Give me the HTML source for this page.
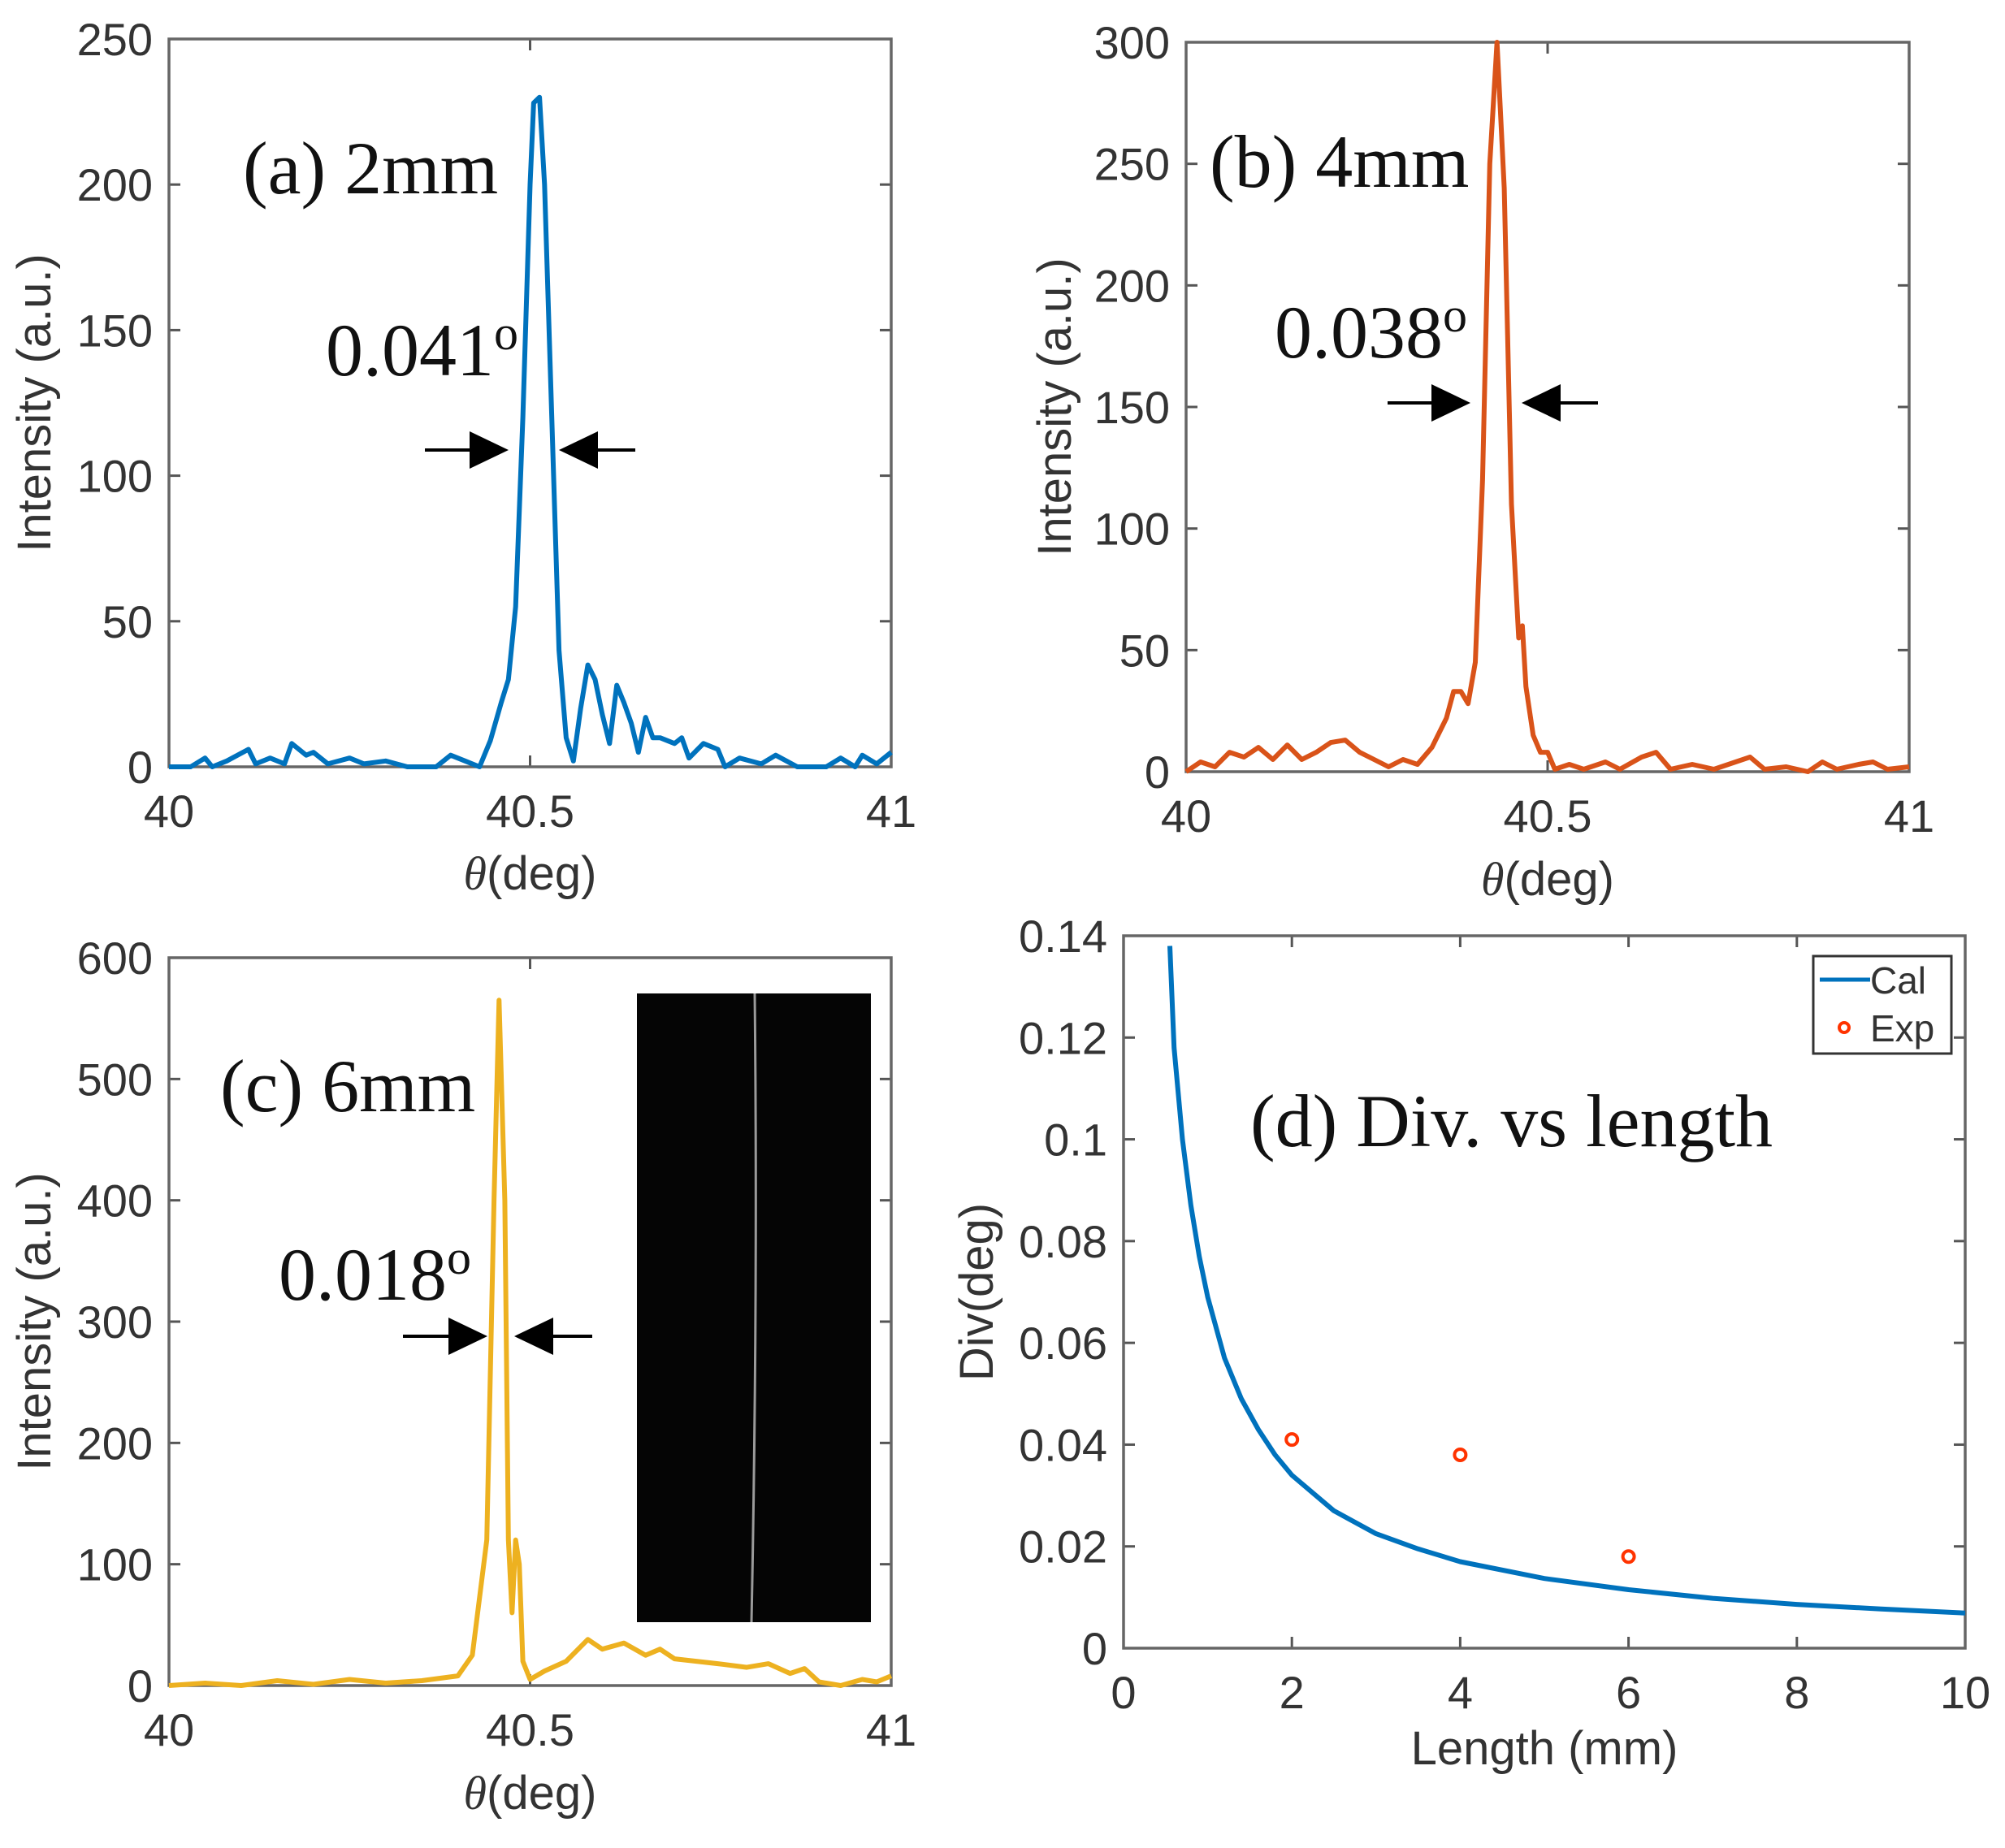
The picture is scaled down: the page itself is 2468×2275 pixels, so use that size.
<!DOCTYPE html>
<html><head><meta charset="utf-8">
<style>
html,body{margin:0;padding:0;background:#fff;}
svg{display:block;}
.tick{font-family:"Liberation Sans",sans-serif;font-size:56px;fill:#333;}
.lab{font-family:"Liberation Sans",sans-serif;font-size:58px;fill:#333;}
.ann{font-family:"Liberation Serif",serif;font-size:92px;fill:#111;}
</style></head><body>
<svg id="fig" width="2468" height="2275" viewBox="0 0 2468 2275" xmlns="http://www.w3.org/2000/svg">
<rect width="2468" height="2275" fill="#fff"/>
</svg>
<script>
// Panel (a) 2mm
const aTheta=[40,40.03,40.05,40.06,40.08,40.11,40.12,40.14,40.16,40.17,40.19,40.2,40.22,40.25,40.27,40.3,40.33,40.37,40.39,40.41,40.43,40.445,40.46,40.47,40.48,40.49,40.5,40.505,40.513,40.52,40.53,40.54,40.55,40.56,40.57,40.58,40.59,40.6,40.61,40.62,40.63,40.64,40.65,40.66,40.67,40.68,40.7,40.71,40.72,40.74,40.76,40.77,40.79,40.82,40.84,40.87,40.91,40.93,40.95,40.96,40.98,41];
const aInt=[0,0,3,0,2,6,1,3,1,8,4,5,1,3,1,2,0,0,4,2,0,9,22,30,55,120,200,228,230,200,120,40,10,2,20,35,30,18,8,28,22,15,5,17,10,10,8,10,3,8,6,0,3,1,4,0,0,3,0,4,1,5];
// Panel (b) 4mm
const bTheta=[40,40.02,40.04,40.06,40.08,40.1,40.12,40.14,40.16,40.18,40.2,40.22,40.24,40.26,40.28,40.3,40.32,40.34,40.36,40.37,40.38,40.39,40.4,40.41,40.42,40.43,40.44,40.45,40.46,40.465,40.47,40.48,40.49,40.5,40.51,40.53,40.55,40.58,40.6,40.63,40.65,40.67,40.7,40.73,40.76,40.78,40.8,40.83,40.86,40.88,40.9,40.93,40.95,40.97,41];
const bInt=[0,4,2,8,6,10,5,11,5,8,12,13,8,5,2,5,3,10,22,33,33,28,45,120,250,300,240,110,55,60,35,15,8,8,1,3,1,4,1,6,8,1,3,1,4,6,1,2,0,4,1,3,4,1,2];
// Panel (c) 6mm
const cTheta=[40,40.05,40.1,40.15,40.2,40.25,40.3,40.35,40.4,40.42,40.44,40.45,40.457,40.465,40.47,40.475,40.48,40.485,40.49,40.5,40.52,40.55,40.58,40.6,40.63,40.66,40.68,40.7,40.73,40.76,40.8,40.83,40.86,40.88,40.9,40.93,40.96,40.98,41];
const cInt=[0,2,0,4,1,5,2,4,8,25,120,400,565,400,120,60,120,100,20,5,12,20,38,30,35,25,30,22,20,18,15,18,10,14,3,0,5,3,8];
// Panel (d)
const calLen=[0.55,0.6,0.7,0.8,0.9,1,1.2,1.4,1.6,1.8,2,2.5,3,3.5,4,5,6,7,8,9,10];
const calDiv=[0.138,0.118,0.100,0.087,0.077,0.069,0.057,0.049,0.043,0.038,0.034,0.027,0.0225,0.0195,0.017,0.0137,0.0115,0.0098,0.0086,0.0077,0.0069];
const expLen=[2,4,6];
const expDiv=[0.041,0.038,0.018];
const xTicksTheta=[40,40.5,41];
const xTickLabelsTheta=["40","40.5","41"];
const yTicksA=[0,50,100,150,200,250];
const yTicksB=[0,50,100,150,200,250,300];
const yTicksC=[0,100,200,300,400,500,600];
const xTicksD=[0,2,4,6,8,10];
const yTicksD=[0,0.02,0.04,0.06,0.08,0.1,0.12,0.14];
const yTickLabelsD=["0","0.02","0.04","0.06","0.08","0.1","0.12","0.14"];

const NS="http://www.w3.org/2000/svg";
const svg=document.getElementById('fig');
function mk(tag,attrs,parent){const e=document.createElementNS(NS,tag);for(const k in attrs)e.setAttribute(k,attrs[k]);(parent||svg).appendChild(e);return e;}

function panel(id,box,xr,yr,xt,xtl,yt,ytl,xlabel,ylabel,ylabX,xlabY){
  const g=mk('g',{});
  
  
  const sx=v=>box.x0+(v-xr[0])/(xr[1]-xr[0])*(box.x1-box.x0);
  const sy=v=>box.y1-(v-yr[0])/(yr[1]-yr[0])*(box.y1-box.y0);
  xt.forEach((v,i)=>{
    const x=sx(v);
    const t1=mk('line',{x1:x,x2:x,y1:box.y1,y2:box.y1-14,stroke:'#555','stroke-width':3},g);
    
    
    const t2=mk('line',{x1:x,x2:x,y1:box.y0,y2:box.y0+14,stroke:'#555','stroke-width':3},g);
    
    
    const tl=mk('text',{x:x,y:box.y1+74,'text-anchor':'middle',class:'tick'},g);
    tl.textContent=xtl[i];
    
    
  });
  yt.forEach((v,i)=>{
    const y=sy(v);
    const t1=mk('line',{x1:box.x0,x2:box.x0+14,y1:y,y2:y,stroke:'#555','stroke-width':3},g);
    
    
    const t2=mk('line',{x1:box.x1,x2:box.x1-14,y1:y,y2:y,stroke:'#555','stroke-width':3},g);
    
    
    const tl=mk('text',{x:box.x0-20,y:y+20,'text-anchor':'end',class:'tick'},g);
    tl.textContent=ytl[i];
    
    
  });
  const fr=mk('rect',{x:box.x0,y:box.y0,width:box.x1-box.x0,height:box.y1-box.y0,fill:'none',stroke:'#666','stroke-width':3.5},g);
  
  
  const xl=mk('text',{x:(box.x0+box.x1)/2,y:xlabY,'text-anchor':'middle',class:'lab'},g);
  xl.innerHTML=xlabel;
  
  
  const yc=(box.y0+box.y1)/2;
  const yl=mk('text',{x:ylabX,y:yc,'text-anchor':'middle',class:'lab',transform:'rotate(-90 '+ylabX+' '+yc+')'},g);
  yl.textContent=ylabel;
  
  
  return {g,sx,sy};
}
function series(p,xs,ys,color,name){
  const d=xs.map((x,i)=>(i?'L':'M')+p.sx(x).toFixed(1)+' '+p.sy(ys[i]).toFixed(1)).join(' ');
  const path=mk('path',{d:d,fill:'none',stroke:color,'stroke-width':6,'stroke-linejoin':'round'},p.g);
  
  
}
function ann(txt,x,y,name,sup){
  const t=mk('text',{x:x,y:y,class:'ann'});
  t.textContent=txt;
  if(sup){const s=mk('tspan',{dy:-32,style:'font-size:60px'},t);s.textContent='o';}
  
  
}
function arrows(y,l0,l1,r0,r1,name){
  const g=mk('g',{});
  
  
  mk('line',{x1:l0,x2:l1-44,y1:y,y2:y,stroke:'#000','stroke-width':4},g);
  mk('polygon',{points:(l1-48)+','+(y-23)+' '+l1+','+y+' '+(l1-48)+','+(y+23),fill:'#000'},g);
  mk('line',{x1:r0+44,x2:r1,y1:y,y2:y,stroke:'#000','stroke-width':4},g);
  mk('polygon',{points:(r0+48)+','+(y-23)+' '+r0+','+y+' '+(r0+48)+','+(y+23),fill:'#000'},g);
}
const TH='<tspan font-style="italic" font-family="Liberation Serif">θ</tspan>(deg)';

const pa=panel('a',{x0:208,x1:1097,y0:48,y1:944},[40,41],[0,250],xTicksTheta,xTickLabelsTheta,yTicksA,yTicksA.map(String),TH,'Intensity (a.u.)',62,1095);
series(pa,aTheta,aInt,'#0072BD','series-2mm');
ann('(a) 2mm',299,238,'label-a');
ann('0.041',401,462,'fwhm-a',true);
arrows(554,523,626,688,782,'fwhm-arrows-a');

const pb=panel('b',{x0:1460,x1:2350,y0:52,y1:950},[40,41],[0,300],xTicksTheta,xTickLabelsTheta,yTicksB,yTicksB.map(String),TH,'Intensity (a.u.)',1318,1102);
series(pb,bTheta,bInt,'#D95319','series-4mm');
ann('(b) 4mm',1489,230,'label-b');
ann('0.038',1569,440,'fwhm-b',true);
arrows(496,1708,1810,1873,1967,'fwhm-arrows-b');

const ins=mk('g',{});


mk('rect',{x:784,y:1223,width:288,height:774,fill:'#050505'},ins);
mk('path',{d:'M929 1223 Q933 1600 925 1997',stroke:'#9a9a9a','stroke-width':3,fill:'none'},ins);

const pc=panel('c',{x0:208,x1:1097,y0:1179,y1:2075},[40,41],[0,600],xTicksTheta,xTickLabelsTheta,yTicksC,yTicksC.map(String),TH,'Intensity (a.u.)',62,2227);
series(pc,cTheta,cInt,'#EDB120','series-6mm');
ann('(c) 6mm',271,1368,'label-c');
ann('0.018',343,1600,'fwhm-c',true);
arrows(1645,496,600,633,729,'fwhm-arrows-c');

const pd=panel('d',{x0:1383,x1:2419,y0:1152,y1:2029},[0,10],[0,0.14],xTicksD,xTicksD.map(String),yTicksD,yTickLabelsD,'Length (mm)','Div(deg)',1222,2172);
series(pd,calLen,calDiv,'#0072BD','series-cal');
expLen.forEach((l,i)=>{
  const c=mk('circle',{cx:pd.sx(l),cy:pd.sy(expDiv[i]),r:7,fill:'none',stroke:'#FF3300','stroke-width':4},pd.g);
  
  
});
ann('(d) Div. vs length',1539,1411,'label-d');
const lg=mk('g',{});


mk('rect',{x:2232,y:1177,width:170,height:120,fill:'#fff',stroke:'#333','stroke-width':3},lg);
mk('line',{x1:2240,x2:2302,y1:1206,y2:1206,stroke:'#0072BD','stroke-width':5},lg);
const lt1=mk('text',{x:2302,y:1223,class:'tick',style:'font-size:46px'},lg);lt1.textContent='Cal';
mk('circle',{cx:2270,cy:1265,r:6,fill:'none',stroke:'#FF3300','stroke-width':4},lg);
const lt2=mk('text',{x:2302,y:1282,class:'tick',style:'font-size:46px'},lg);lt2.textContent='Exp';
</script>
</body></html>
